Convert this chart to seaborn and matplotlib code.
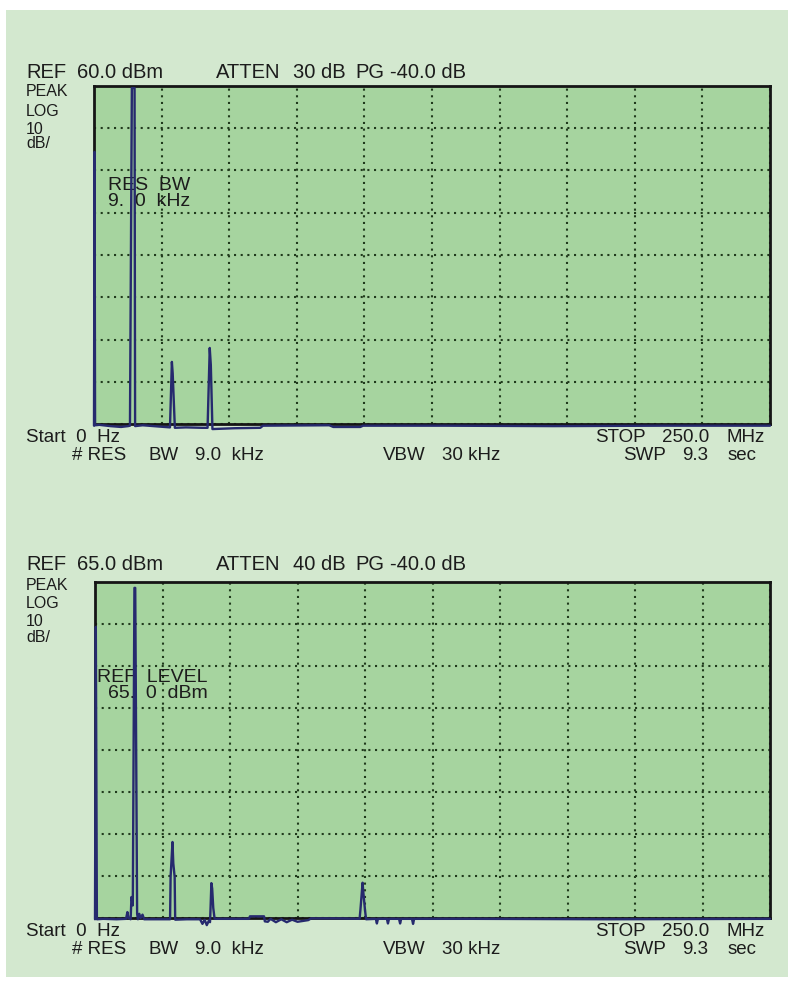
import numpy as np
import pandas as pd
import matplotlib
matplotlib.use("Agg")
import matplotlib.pyplot as plt
import seaborn as sns
from matplotlib.patches import Rectangle

# -------------------------------
# Trace data (MHz, dBm)
# -------------------------------
freq_top = [0.0, 0.2, 0.4, 2.0, 6.0, 10.0, 12.6,
            13.3, 14.0, 15.0, 15.2, 18.0, 24.0,
            28.1, 28.8, 29.1, 29.9, 34.0, 40.0,
            42.0, 42.8, 43.2, 43.8, 52.0, 61.5, 62.5,
            87.0, 88.5, 98.5, 99.5, 130.0, 170.0, 210.0, 250.0]
level_top = [-20.4, 44.4, -20.3, -20.2, -20.5, -20.7, -20.5,
             -20.4, 59.5, 59.5, -20.5, -20.3, -20.6,
             -20.8, -5.3, -8.0, -20.9, -20.8, -20.9,
             -20.9, -2.0, -6.0, -21.2, -21.0, -20.9, -20.4,
             -20.3, -20.7, -20.7, -20.4, -20.4, -20.5, -20.4, -20.4]

freq_bot = [0.0, 0.3, 0.7, 3.0, 8.0, 11.5, 12.0, 12.4,
            13.2, 13.5, 14.0, 14.6, 14.9, 15.6, 15.9, 16.4, 16.9, 17.6, 18.2, 24.0,
            27.8, 28.0, 28.7, 29.0, 29.5, 29.7, 34.0,
            38.9, 39.8, 40.6, 41.4, 42.2,
            42.6, 42.8, 43.1, 43.4, 43.8, 44.3, 50.0,
            57.0, 57.4, 62.6, 62.9, 64.0, 65.0, 67.0, 69.0, 71.0, 73.0, 75.0, 79.0, 80.0, 90.0,
            98.0, 98.3, 99.1, 99.4, 100.0, 100.4,
            104.0, 104.4, 104.8, 108.1, 108.5, 108.9, 112.6, 113.0, 113.4,
            117.4, 117.8, 118.2, 140.0, 190.0, 250.0]
level_bot = [-15.3, 54.3, -15.3, -15.2, -15.3, -15.2, -13.6, -15.0,
             -15.3, -10.0, -12.0, 63.6, 63.6, -14.0, -15.3, -14.0, -15.0, -14.2, -15.3, -15.3,
             -15.3, -5.2, 3.1, -2.0, -5.2, -15.4, -15.3,
             -15.3, -16.4, -15.4, -16.7, -15.6,
             -16.0, -12.6, -6.7, -8.0, -12.6, -15.2, -15.2,
             -15.2, -14.6, -14.6, -15.8, -15.9, -15.2, -16.0, -15.3, -16.0, -15.4, -15.9, -15.5, -15.1, -15.1,
             -15.2, -13.1, -6.6, -9.0, -13.1, -15.3,
             -15.2, -16.3, -15.2, -15.2, -16.3, -15.2, -15.2, -16.3, -15.2,
             -15.2, -16.4, -15.2, -15.2, -15.3, -15.2]

ref_levels = [60.0, 65.0]
atten = ["30 dB", "40 dB"]
notes = [("RES  BW", "9.  0  kHz"), ("REF  LEVEL", "65.  0  dBm")]

PANEL = "#d3e8cf"
SCREEN = "#a6d49f"
TRACE = "#262a6e"
INK = "#1c1c1c"

sns.set_theme(style="white")
plt.rcParams["font.family"] = ["Liberation Sans", "DejaVu Sans"]

W, H = 788, 981
fig = plt.figure(figsize=(W / 100, H / 100), dpi=100)
fig.patch.set_facecolor("white")
fig.patches.append(Rectangle((6 / W, 1 - 977 / H), (W - 6) / W, 967 / H,
                             transform=fig.transFigure, facecolor=PANEL,
                             edgecolor="none", zorder=-10))


def put(x, y, s, size=13.5, ax=None, **kw):
    # x, y in pixels from the top-left corner
    target = ax if ax is not None else fig
    kw.setdefault("color", INK)
    if ax is not None:
        kw["transform"] = fig.transFigure
    target.text(x / W, 1 - y / H, s, fontsize=size, va="center", ha="left", **kw)


traces = [(freq_top, level_top), (freq_bot, level_bot)]
offsets = [0, 493]
frames = [(94, 86, 770, 424), (95, 582, 770, 918)]

for i, ((fr, lv), dy, (x0, y0, x1, y1)) in enumerate(zip(traces, offsets, frames)):
    ref = ref_levels[i]
    df = pd.DataFrame({"freq": fr, "level": lv})

    ax = fig.add_axes([x0 / W, 1 - y1 / H, (x1 - x0) / W, (y1 - y0) / H])
    ax.set_facecolor(SCREEN)
    sns.lineplot(data=df, x="freq", y="level", ax=ax, estimator=None, sort=False,
                 color=TRACE, linewidth=1.7, zorder=3)
    for ln in ax.lines:
        ln.set_clip_on(False)

    ax.set_xlim(0, 250)
    ax.set_ylim(ref - 80, ref)
    ax.set_xticks(np.linspace(0, 250, 11))
    ax.set_yticks(np.linspace(ref - 80, ref, 9))
    ax.tick_params(length=0, labelbottom=False, labelleft=False)
    ax.set_xlabel("")
    ax.set_ylabel("")
    ax.grid(True, color="#203a1c", linestyle=(0, (1, 2.2)), linewidth=1.5)
    for sp in ax.spines.values():
        sp.set_color("#151515")
        sp.set_linewidth(2.0)

    # header
    put(26, 72 + dy, "REF", 14.5)
    put(77, 72 + dy, f"{ref:.1f} dBm", 14.5)
    put(216, 72 + dy, "ATTEN", 14.5)
    put(293, 72 + dy, atten[i], 14.5)
    put(355, 72 + dy, "PG", 14.5)
    put(390, 72 + dy, "-40.0 dB", 14.5)
    # scale info at the left
    for s, yy in zip(["PEAK", "LOG", "10", "dB/"], [92, 111, 129, 144]):
        put(26, yy + dy, s, 11.5)

    # annotation inside the screen (trace drawn over it)
    line1, line2 = notes[i]
    if i == 0:
        put(108, 185, line1, 14, ax=ax, zorder=2)
        put(108, 201, line2, 14, ax=ax, zorder=2)
    else:
        put(97, 678, line1, 14, ax=ax, zorder=2)
        put(108, 694, line2, 14, ax=ax, zorder=2)

    # footer
    ya, yb = y1 + 13, y1 + 31
    put(26, ya, "Start  0  Hz")
    put(72, yb, "# RES")
    put(148, yb, "BW")
    put(195, yb, "9.0  kHz")
    put(383, yb, "VBW")
    put(442, yb, "30 kHz")
    put(595, ya, "STOP")
    put(662, ya, "250.0")
    put(727, ya, "MHz")
    put(623, yb, "SWP")
    put(682, yb, "9.3")
    put(728, yb, "sec")

fig.savefig("out.png", dpi=100, facecolor=fig.get_facecolor())
